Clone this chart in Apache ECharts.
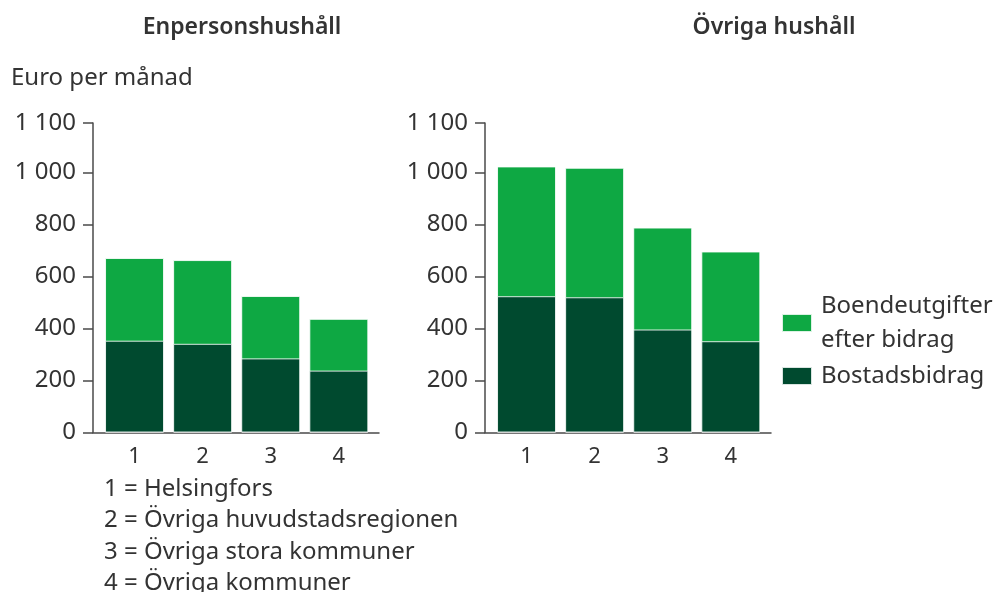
<!DOCTYPE html>
<html>
<head>
<meta charset="utf-8">
<script src="https://cdn.jsdelivr.net/npm/echarts@6/dist/echarts.min.js"></script>
<style>
  html, body { margin: 0; padding: 0; background: #fff; }
  #chart { width: 998px; height: 592px; }
</style>
</head>
<body>
<div id="chart"></div>
<script>
// categories (1..4 = regions)
const regions = [1, 2, 3, 4];
const regionNotes = [
    '1 = Helsingfors',
    '2 = Övriga huvudstadsregionen',
    '3 = Övriga stora kommuner',
    '4 = Övriga kommuner'
];
const panelTitles = ['Enpersonshushåll', 'Övriga hushåll'];
const seriesNames = ['Boendeutgifter efter bidrag', 'Bostadsbidrag'];

// Euro per month
const singleBidrag = [353, 341, 285, 238];
const singleEfter = [318, 322, 240, 199];
const otherBidrag = [524, 520, 396, 351];
const otherEfter = [499, 498, 392, 345];

const yTicks = [0, 200, 400, 600, 800, 1000, 1190];

const LIGHT = '#0ea843';
const DARK = '#004a2f';
const TEXT = '#333';
const AXIS = '#4a4a4a';
const FONT = '"Noto Sans", sans-serif';
const FS = 24;

const chart = echarts.init(document.getElementById('chart'));

function fmt(v) {
    // top tick of the axis carries the "1 100" label
    if (v > 1000) return '1 100';
    return String(v).replace(/\B(?=(\d{3})+(?!\d))/g, ' ');
}

function pairs(vals) {
    return vals.map((v, i) => [regions[i], v]);
}
function totals(a, b) {
    return a.map((v, i) => v + b[i]);
}

const grids = [
    { left: 93, top: 123, width: 286, height: 309.5 },
    { left: 485, top: 123, width: 286, height: 309.5 }
];

const xAxes = grids.map((g, i) => ({
    type: 'value',
    gridIndex: i,
    min: 0.39,
    max: 4.59,
    splitLine: { show: false },
    axisTick: { show: false },
    axisLine: { show: true, lineStyle: { color: AXIS, width: 1.5 } },
    axisLabel: {
        customValues: regions,
        color: TEXT,
        fontFamily: FONT,
        fontSize: FS - 2,
        margin: 13
    }
}));

const yAxes = grids.map((g, i) => ({
    type: 'value',
    gridIndex: i,
    min: 0,
    max: 1190,
    splitLine: { show: false },
    axisLine: { show: true, lineStyle: { color: AXIS, width: 1.5 } },
    axisTick: { show: true, length: 10, customValues: yTicks, lineStyle: { color: AXIS, width: 1.5 } },
    axisLabel: {
        customValues: yTicks,
        formatter: fmt,
        color: TEXT,
        fontFamily: FONT,
        fontSize: FS,
        margin: 17
    }
}));

const barStyle = (color) => ({
    color: color,
    borderColor: 'rgba(255,255,255,0.85)',
    borderWidth: 1
});

function panelSeries(idx, bidrag, efter) {
    return [
        {
            name: seriesNames[0],
            type: 'bar',
            xAxisIndex: idx,
            yAxisIndex: idx,
            barWidth: 59,
            barGap: '-100%',
            itemStyle: barStyle(LIGHT),
            data: pairs(totals(bidrag, efter))
        },
        {
            name: seriesNames[1],
            type: 'bar',
            xAxisIndex: idx,
            yAxisIndex: idx,
            barWidth: 59,
            barGap: '-100%',
            itemStyle: barStyle(DARK),
            data: pairs(bidrag)
        }
    ];
}

chart.setOption({
    animation: false,
    textStyle: { fontFamily: FONT },
    title: [
        { text: panelTitles[0], left: 237, top: 11, textAlign: 'center',
          textStyle: { fontSize: FS - 1, fontWeight: 600, color: TEXT, fontFamily: FONT } },
        { text: panelTitles[1], left: 769, top: 11, textAlign: 'center',
          textStyle: { fontSize: FS - 1, fontWeight: 600, color: TEXT, fontFamily: FONT } },
        { text: 'Euro per månad', left: 6, top: 61,
          textStyle: { fontSize: FS, fontWeight: 'normal', color: TEXT, fontFamily: FONT } },
        { text: regionNotes.join('\n'), left: 99, top: 468,
          textStyle: { fontSize: FS, fontWeight: 'normal', color: TEXT, fontFamily: FONT, lineHeight: 31.6 } }
    ],
    legend: {
        data: seriesNames,
        orient: 'vertical',
        left: 776,
        top: 284,
        itemWidth: 30,
        itemHeight: 18,
        itemGap: 2,
        icon: 'rect',
        formatter: (n) => n.replace(' efter', '\nefter'),
        textStyle: { fontSize: FS, color: TEXT, fontFamily: FONT, lineHeight: 34, padding: [0, 0, 0, 4] }
    },
    grid: grids,
    xAxis: xAxes,
    yAxis: yAxes,
    series: panelSeries(0, singleBidrag, singleEfter).concat(panelSeries(1, otherBidrag, otherEfter))
});
</script>
</body>
</html>
